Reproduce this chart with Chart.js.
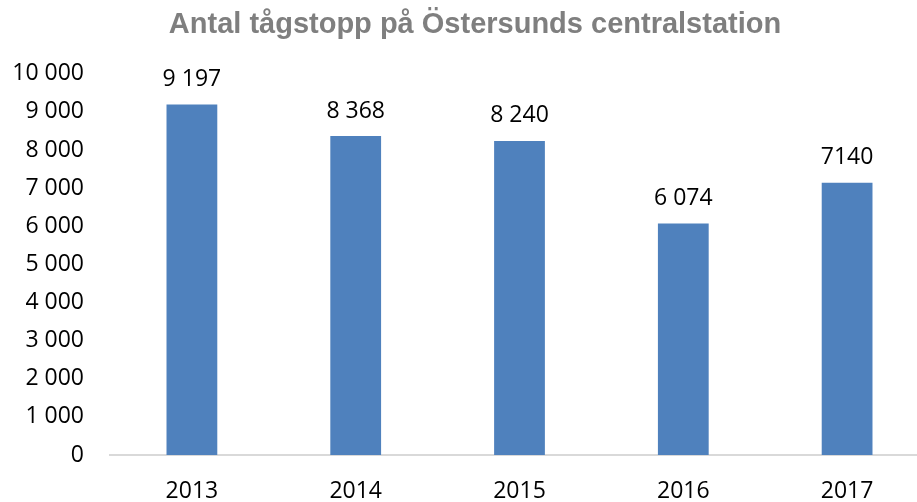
<!DOCTYPE html>
<html>
<head>
<meta charset="utf-8">
<script src="https://cdn.jsdelivr.net/npm/chart.js@4"></script>
<style>
  html, body { margin: 0; padding: 0; background: #fff; overflow: hidden; }
</style>
</head>
<body>
<canvas id="chart" width="950" height="502"></canvas>
<script>
const years = ['2013', '2014', '2015', '2016', '2017'];
const stops = [9197, 8368, 8240, 6074, 7140];
const stopLabels = ['9 197', '8 368', '8 240', '6 074', '7140'];
const yTicks = [0, 1000, 2000, 3000, 4000, 5000, 6000, 7000, 8000, 9000, 10000];

const labelFont = '23px "Open Sans"';

// skriver värdet ovanför varje stapel
const valueLabels = {
    id: 'valueLabels',
    afterDatasetsDraw(chart) {
        const ctx = chart.ctx;
        const meta = chart.getDatasetMeta(0);
        ctx.save();
        ctx.font = labelFont;
        ctx.fillStyle = '#000';
        ctx.textAlign = 'center';
        ctx.textBaseline = 'middle';
        meta.data.forEach((bar, i) => {
            ctx.fillText(stopLabels[i], bar.x, bar.y - 25);
        });
        ctx.restore();
    }
};

function fmt(v) {
    return String(v).replace(/\B(?=(\d{3})+(?!\d))/g, ' ');
}

new Chart(document.getElementById('chart').getContext('2d'), {
    type: 'bar',
    data: {
        labels: years,
        datasets: [{
            data: stops,
            backgroundColor: '#4f81bd',
            barPercentage: 0.31,
            categoryPercentage: 1
        }]
    },
    options: {
        responsive: false,
        animation: false,
        plugins: {
            legend: { display: false },
            tooltip: { enabled: false },
            title: {
                display: true,
                text: 'Antal tågstopp på Östersunds centralstation',
                color: '#7f7f7f',
                font: { family: '"Liberation Sans", Arial', size: 29, weight: 'bold' },
                padding: { top: 8, bottom: 31 }
            }
        },
        scales: {
            y: {
                min: 0,
                max: 10000,
                afterBuildTicks: (scale) => { scale.ticks = yTicks.map(v => ({ value: v })); },
                afterFit: (scale) => { scale.width = 110; },
                grid: { display: false, drawTicks: false },
                border: { display: false },
                ticks: {
                    color: '#000',
                    padding: 26,
                    font: { family: '"Open Sans"', size: 23 },
                    callback: (v) => fmt(v)
                }
            },
            // tom axel till höger, bara för att ge plats
            yRight: {
                position: 'right',
                afterFit: (scale) => { scale.width = 21; },
                grid: { display: false, drawTicks: false },
                border: { display: false },
                ticks: { display: false }
            },
            x: {
                afterFit: (scale) => { scale.height = 47; },
                grid: { display: false, drawTicks: false },
                border: { display: true, color: '#d9d9d9', width: 2 },
                ticks: {
                    color: '#000',
                    padding: 23,
                    font: { family: '"Open Sans"', size: 23 }
                }
            }
        }
    },
    plugins: [valueLabels]
});
</script>
</body>
</html>
